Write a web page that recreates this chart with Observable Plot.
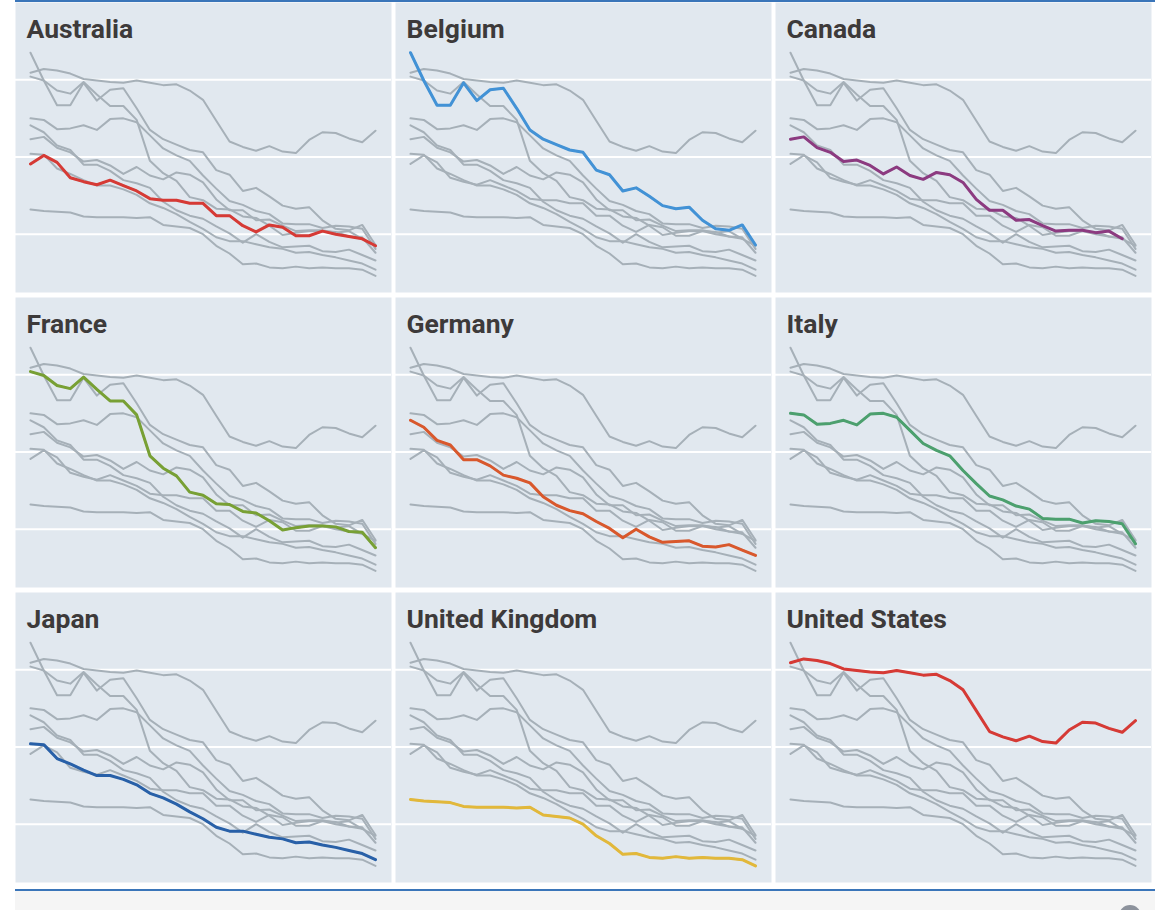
<!DOCTYPE html>
<html><head><meta charset="utf-8">
<script src="https://cdn.jsdelivr.net/npm/d3@7"></script>
<script src="https://cdn.jsdelivr.net/npm/@observablehq/plot@0.6"></script>
<style>
html,body{margin:0;padding:0;background:#fff;overflow:hidden;}
#wrap{position:relative;width:1170px;height:910px;overflow:hidden;}
#chart{position:absolute;left:0;top:0;}
#topline{position:absolute;left:15px;top:0;width:1140px;height:1.5px;background:#3a75b9;}
#botline{position:absolute;left:15px;top:889px;width:1140px;height:2px;background:#3a75b9;}
#footer{position:absolute;left:15px;top:891px;width:1140px;height:19px;background:#f5f5f5;}
#logo{position:absolute;left:1119px;top:905px;width:22px;height:22px;border-radius:50%;background:#8c929c;}
</style>
</head><body>
<div id="wrap">
  <div id="chart"></div>
  <div id="topline"></div>
  <div id="botline"></div>
  <div id="footer"></div>
  <div id="logo"></div>
</div>
<script>
const years = [1990,1991,1992,1993,1994,1995,1996,1997,1998,1999,2000,2001,2002,2003,2004,2005,2006,2007,2008,2009,2010,2011,2012,2013,2014,2015,2016];
const countries = ["Australia","Belgium","Canada","France","Germany","Italy","Japan","United Kingdom","United States"];
const colors = ["#d63a35","#4292d6","#8c3a80","#78a034","#d9582c","#4ca06e","#2860a8","#e2b83a","#d63a35"];
const gridValues = [10, 20, 30];

const australia = [19.1,20.2,19.3,17.3,16.8,16.4,17.0,16.3,15.6,14.6,14.4,14.4,14.0,14.0,12.4,12.4,11.1,10.3,11.2,10.9,9.8,9.8,10.4,10.0,9.7,9.4,8.5];
const belgium   = [33.5,29.9,26.7,26.7,29.6,27.3,28.7,28.9,26.3,23.5,22.3,21.6,20.9,20.6,18.3,17.7,15.6,16.0,14.9,13.7,13.3,13.5,11.8,10.7,10.5,11.2,8.6];
const canada    = [22.3,22.6,21.2,20.6,19.4,19.6,18.9,17.8,18.7,17.6,17.1,18.0,17.7,16.7,14.5,13.1,13.1,11.8,11.9,11.1,10.4,10.5,10.5,10.2,10.4,9.4,null];
const france    = [30.4,29.9,28.6,28.2,29.7,28.1,26.6,26.6,24.8,19.5,17.9,16.9,14.8,14.4,13.3,13.2,12.3,12.1,11.1,9.9,10.2,10.4,10.4,10.3,9.7,9.6,7.6];
const germany   = [24.1,23.2,21.5,20.9,19.0,19.0,18.2,17.0,16.6,16.0,14.2,13.1,12.4,12.0,11.0,10.1,8.9,10.0,9.0,8.3,8.4,8.5,7.8,7.7,8.0,7.3,6.6];
const italy     = [25.0,24.8,23.6,23.7,24.1,23.5,24.9,25.0,24.5,22.8,21.1,20.2,19.5,17.6,15.9,14.3,13.8,13.0,12.6,11.4,11.3,11.3,10.8,11.1,11.0,10.7,8.1];
const japan     = [20.4,20.3,18.5,17.8,17.0,16.3,16.3,15.8,15.1,14.0,13.4,12.6,11.6,10.7,9.6,9.1,9.1,8.7,8.3,8.1,7.6,7.7,7.3,7.0,6.6,6.2,5.4];
const uk        = [13.2,13.0,12.9,12.8,12.3,12.2,12.2,12.2,12.1,12.2,11.2,11.0,10.8,10.0,8.5,7.5,6.1,6.2,5.7,5.6,5.8,5.6,5.7,5.6,5.6,5.4,4.6];
const us        = [30.9,31.4,31.2,30.8,30.1,29.9,29.7,29.6,29.9,29.6,29.3,29.4,28.6,27.4,24.7,22.0,21.3,20.8,21.4,20.7,20.5,22.2,23.2,23.1,22.4,21.9,23.4];
const series = [australia, belgium, canada, france, germany, italy, japan, uk, us];

const rows = [];
countries.forEach((panel, pi) => {
  countries.forEach((country, ci) => {
    series[ci].forEach((v, yi) => {
      if (v == null) return;
      rows.push({panel, col: pi % 3, row: Math.floor(pi / 3), country, year: years[yi], value: v, color: colors[pi]});
    });
  });
});

const chart = Plot.plot({
  width: 1170, height: 886,
  marginTop: 1.5, marginBottom: 2.5, marginLeft: 15, marginRight: 19,
  style: {background: "transparent"},
  facet: {data: rows, x: "col", y: "row"},
  fx: {axis: null, padding: 4 / 380},
  fy: {axis: null, padding: 0.016},
  x: {axis: null, domain: [years[0], years[years.length - 1]], insetLeft: 15, insetRight: 16},
  y: {axis: null, domain: [2.45, 40]},
  color: {type: "identity"},
  marks: [
    Plot.frame({fill: "#e1e8ef", stroke: "none"}),
    Plot.ruleY(gridValues, {stroke: "#ffffff", strokeWidth: 2}),
    Plot.lineY(rows, {x: "year", y: "value", z: "country", stroke: "#a6b0b8", strokeWidth: 2, strokeLinejoin: "round"}),
    Plot.lineY(rows, {filter: d => d.country === d.panel, x: "year", y: "value", z: "country", stroke: "color", strokeWidth: 3, strokeLinejoin: "round"}),
    Plot.text(rows, Plot.selectFirst({text: "panel", frameAnchor: "top-left", dx: 11, dy: 17, fontSize: 26.5, fontWeight: "bold", fontFamily: "Roboto", fill: "#3d3a3a", lineAnchor: "top", textAnchor: "start"}))
  ]
});
document.getElementById("chart").appendChild(chart);
</script>
</body></html>
